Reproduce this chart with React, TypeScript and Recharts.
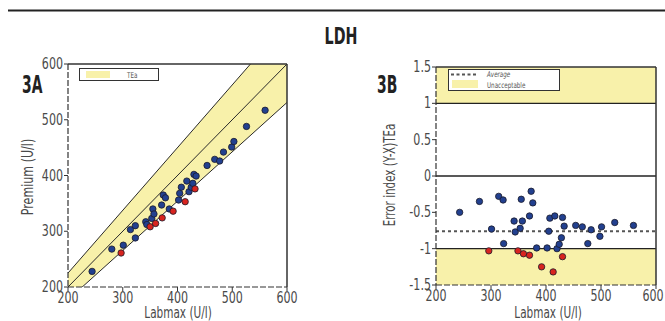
import React from "react";
import {
  ComposedChart,
  Scatter,
  Area,
  Line,
  XAxis,
  YAxis,
  ReferenceLine,
  ReferenceArea,
} from "recharts";

// ---- Panel 3A data ----
const labmaxBlueA = [244, 280, 301, 314, 323, 323, 342, 344, 353, 355, 357, 371, 374, 378, 385, 402, 404, 407, 417, 421, 425, 428, 430, 434, 454, 468, 477, 484, 499, 503, 526, 560];
const premiumBlueA = [228, 268, 275, 303, 310, 288, 317, 312, 323, 340, 331, 347, 365, 360, 340, 356, 368, 379, 390, 371, 379, 386, 402, 399, 418, 429, 426, 442, 451, 461, 488, 517];
const labmaxRedA = [297, 350, 360, 372, 392, 414, 432];
const premiumRedA = [261, 308, 314, 324, 336, 353, 376];

// TEa band (edges read at x=200 and x=600)
const bandX = [200, 600];
const bandLow = [177, 531];
const bandHigh = [225, 675];
const identity = [200, 600];

// ---- Panel 3B data ----
const labmaxBlueB = [243, 279, 301, 314, 322, 323, 342, 344, 353, 355, 357, 370, 373, 376, 383, 402, 405, 407, 416, 420, 424, 428, 430, 433, 454, 466, 476, 482, 498, 501, 525, 559];
const errorBlueB = [-0.5, -0.35, -0.73, -0.28, -0.33, -0.93, -0.62, -0.77, -0.72, -0.32, -0.62, -0.55, -0.21, -0.37, -0.99, -0.99, -0.76, -0.58, -0.55, -1.0, -0.94, -0.85, -0.57, -0.69, -0.68, -0.7, -0.93, -0.74, -0.83, -0.7, -0.64, -0.68];
const labmaxRedB = [296, 349, 359, 370, 392, 413, 430];
const errorRedB = [-1.03, -1.03, -1.07, -1.09, -1.25, -1.32, -1.11];
const averageError = -0.76;

const xTicks = [200, 300, 400, 500, 600];
const yTicksA = [200, 300, 400, 500, 600];
const yTicksB = [-1.5, -1, -0.5, 0, 0.5, 1, 1.5];

const FONT = "'DejaVu Sans', sans-serif";
const YELLOW = "#f8f1aa";
const BLUE = "#22408f";
const RED = "#d8241f";
const TEXT_GRAY = "#4a4a4a";
const AXIS_LINE = { stroke: "#333", strokeWidth: 1.2, strokeDasharray: "6 2" };

const bandData = bandX.map((x, i) => ({ x, band: [bandLow[i], bandHigh[i]], ident: identity[i] }));
const blueA = labmaxBlueA.map((x, i) => ({ x, y: premiumBlueA[i] }));
const redA = labmaxRedA.map((x, i) => ({ x, y: premiumRedA[i] }));
const blueB = labmaxBlueB.map((x, i) => ({ x, y: errorBlueB[i] }));
const redB = labmaxRedB.map((x, i) => ({ x, y: errorRedB[i] }));

type CTextProps = {
  x: number;
  y: number;
  sx?: number;
  rotate?: number;
  anchor?: "start" | "middle" | "end";
  size: number;
  bold?: boolean;
  italic?: boolean;
  fill?: string;
  children: React.ReactNode;
};

const CText = ({ x, y, sx = 0.72, rotate = 0, anchor = "start", size, bold, italic, fill = TEXT_GRAY, children }: CTextProps) => (
  <text
    transform={`translate(${x},${y}) rotate(${rotate}) scale(${sx},1)`}
    textAnchor={anchor}
    fontSize={size}
    fontWeight={bold ? "bold" : "normal"}
    fontStyle={italic ? "italic" : "normal"}
    fill={fill}
    fontFamily={FONT}
  >
    {children}
  </text>
);

const XTick = (props: any) => {
  const { x, y, payload } = props;
  return (
    <CText x={x} y={y + 11} anchor="middle" size={15} sx={0.74}>
      {payload.value}
    </CText>
  );
};

const YTick = (props: any) => {
  const { x, y, payload } = props;
  return (
    <CText x={x} y={y + 5} anchor="end" size={15} sx={0.74}>
      {payload.value}
    </CText>
  );
};

const Dot = (color: string) => (props: any) => {
  const { cx, cy } = props;
  if (cx == null || cy == null) return <g />;
  return <circle cx={cx} cy={cy} r={3.2} fill={color} stroke="#1a1a2a" strokeWidth={0.8} />;
};

export default function App() {
  return (
    <div style={{ position: "absolute", left: 0, top: 0, width: 665, height: 321, background: "#fff", overflow: "hidden" }}>
      <div style={{ position: "absolute", left: 0, top: 0 }}>
        <ComposedChart width={300} height={321} data={bandData} margin={{ top: 64, right: 13, left: 0, bottom: 4 }}>
          <XAxis
            dataKey="x"
            type="number"
            domain={[200, 600]}
            ticks={xTicks}
            allowDataOverflow
            tick={<XTick />}
            tickSize={4}
            tickMargin={1}
            height={30}
            axisLine={AXIS_LINE}
            tickLine={{ stroke: "#333" }}
          />
          <YAxis
            type="number"
            domain={[200, 600]}
            ticks={yTicksA}
            allowDataOverflow
            tick={<YTick />}
            tickSize={4}
            tickMargin={1}
            width={68}
            axisLine={AXIS_LINE}
            tickLine={{ stroke: "#333" }}
          />
          <Area dataKey="band" type="linear" fill={YELLOW} fillOpacity={1} stroke="#2a2a2a" strokeWidth={1} isAnimationActive={false} dot={false} activeDot={false} />
          <Line dataKey="ident" type="linear" stroke="#2a2a2a" strokeWidth={1} dot={false} activeDot={false} isAnimationActive={false} />
          <ReferenceLine y={600} stroke="#333" strokeWidth={1.5} />
          <ReferenceLine x={600} stroke="#333" strokeWidth={1.5} />
          <Scatter data={blueA} dataKey="y" shape={Dot(BLUE)} isAnimationActive={false} />
          <Scatter data={redA} dataKey="y" shape={Dot(RED)} isAnimationActive={false} />
        </ComposedChart>
      </div>
      <div style={{ position: "absolute", left: 370, top: 0 }}>
        <ComposedChart width={295} height={321} margin={{ top: 67, right: 9, left: 0, bottom: 6 }}>
          <XAxis
            dataKey="x"
            type="number"
            domain={[200, 600]}
            ticks={xTicks}
            allowDataOverflow
            tick={<XTick />}
            tickSize={4}
            tickMargin={1}
            height={30}
            axisLine={AXIS_LINE}
            tickLine={{ stroke: "#333" }}
          />
          <YAxis
            type="number"
            domain={[-1.5, 1.5]}
            ticks={yTicksB}
            allowDataOverflow
            tick={<YTick />}
            tickSize={4}
            tickMargin={1}
            width={66}
            axisLine={AXIS_LINE}
            tickLine={{ stroke: "#333" }}
          />
          <ReferenceArea y1={1} y2={1.5} fill={YELLOW} fillOpacity={1} stroke="none" />
          <ReferenceArea y1={-1.5} y2={-1} fill={YELLOW} fillOpacity={1} stroke="none" />
          <ReferenceLine y={1} stroke="#222" strokeWidth={1.3} />
          <ReferenceLine y={0} stroke="#222" strokeWidth={1.3} />
          <ReferenceLine y={-1} stroke="#222" strokeWidth={1.3} />
          <ReferenceLine y={averageError} stroke="#555" strokeWidth={2} strokeDasharray="3 3" />
          <ReferenceLine y={1.5} stroke="#333" strokeWidth={1.5} />
          <ReferenceLine x={600} stroke="#333" strokeWidth={1.5} />
          <Scatter data={blueB} dataKey="y" shape={Dot(BLUE)} isAnimationActive={false} />
          <Scatter data={redB} dataKey="y" shape={Dot(RED)} isAnimationActive={false} />
        </ComposedChart>
      </div>
      <svg width={665} height={321} style={{ position: "absolute", left: 0, top: 0, pointerEvents: "none" }}>
        <line x1={8} y1={10.5} x2={665} y2={10.5} stroke="#222" strokeWidth={2} />
        <CText x={341} y={44} anchor="middle" size={23} bold sx={0.62} fill="#222">LDH</CText>
        <CText x={22} y={93} size={24} bold sx={0.58} fill="#222">3A</CText>
        <CText x={377} y={93} size={24} bold sx={0.58} fill="#222">3B</CText>
        <CText x={33} y={177} rotate={-90} anchor="middle" size={15} sx={0.74}>Premium (U/l)</CText>
        <CText x={178} y={318} anchor="middle" size={15} sx={0.7}>Labmax (U/l)</CText>
        <CText x={395} y={175} rotate={-90} anchor="middle" size={15} sx={0.69}>Error index (Y-X)TEa</CText>
        <CText x={548} y={318} anchor="middle" size={15} sx={0.7}>Labmax (U/l)</CText>
        {/* legend 3A */}
        <rect x={79.5} y={68.5} width={79} height={12} fill="#fff" stroke="#333" strokeWidth={1} />
        <rect x={86} y={71} width={24} height={7} fill={YELLOW} />
        <CText x={127} y={78} size={8} sx={0.7} fill="#555">TEa</CText>
        {/* legend 3B */}
        <rect x={448.5} y={69.5} width={111} height={21} fill="#fff" stroke="#333" strokeWidth={1} />
        <line x1={451} y1={74.5} x2={478} y2={74.5} stroke="#555" strokeWidth={2} strokeDasharray="3 2.5" />
        <rect x={452} y={80} width={26} height={8} fill={YELLOW} />
        <CText x={487} y={77} size={8} sx={0.7} italic fill="#555">Average</CText>
        <CText x={487} y={87.5} size={8} sx={0.7} fill="#555">Unacceptable</CText>
      </svg>
    </div>
  );
}
